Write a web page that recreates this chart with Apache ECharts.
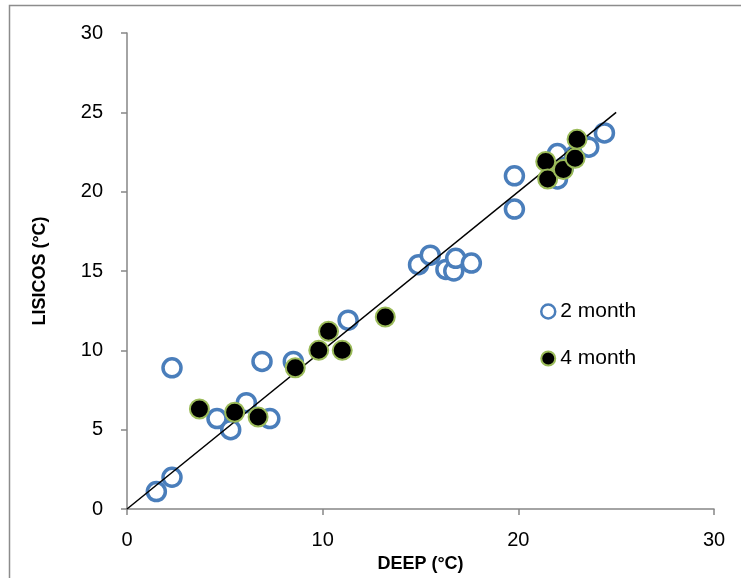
<!DOCTYPE html>
<html>
<head>
<meta charset="utf-8">
<script src="https://cdn.jsdelivr.net/npm/echarts@6/dist/echarts.min.js"></script>
<style>
  html, body { margin: 0; padding: 0; background: #fff; }
  #chart { width: 741px; height: 578px; }
</style>
</head>
<body>
<div id="chart"></div>
<script>
// 2 month readings: DEEP (x) vs LISICOS (y)
var deep2 = [1.5, 2.3, 2.3, 4.6, 5.3, 6.1, 6.9, 7.3, 8.5, 11.3, 14.9, 15.5, 16.3, 16.7, 16.8, 17.6, 19.8, 19.8, 22.0, 22.0, 22.3, 22.9, 23.4, 23.6, 24.4];
var lisicos2 = [1.1, 2.0, 8.9, 5.7, 5.0, 6.7, 9.3, 5.7, 9.3, 11.9, 15.4, 16.0, 15.1, 15.0, 15.8, 15.5, 21.0, 18.9, 22.4, 20.8, 21.5, 22.3, 22.9, 22.8, 23.7];

// 4 month readings
var deep4 = [3.7, 5.5, 6.7, 8.6, 9.8, 10.3, 11.0, 13.2, 21.4, 21.5, 22.3, 22.9, 23.0];
var lisicos4 = [6.3, 6.1, 5.8, 8.9, 10.0, 11.2, 10.0, 12.1, 21.9, 20.8, 21.4, 22.1, 23.3];

// 1:1 line
var lineX = [0, 25];
var lineY = [0, 25];

function pairs(xs, ys) {
    var out = [];
    for (var i = 0; i < xs.length; i++) {
        out.push([xs[i], ys[i]]);
    }
    return out;
}

var font = 'Liberation Sans';
var axisGray = '#868686';
var blue = '#4a7ebb';
var green = '#9bbb59';

var chart = echarts.init(document.getElementById('chart'));
chart.setOption({
    animation: false,
    textStyle: { fontFamily: font },
    graphic: [{
        type: 'rect',
        shape: { x: 9.5, y: 5.5, width: 800, height: 700 },
        style: { fill: 'none', stroke: '#8c8c8c', lineWidth: 1.5 },
        silent: true
    }],
    grid: { left: 127, right: 27, top: 33, bottom: 69 },
    legend: {
        orient: 'vertical',
        left: 535,
        top: 296,
        itemGap: 26,
        itemWidth: 14,
        itemHeight: 14,
        data: [
            { name: '2 month', itemStyle: { color: '#fff', borderColor: blue, borderWidth: 2.5, opacity: 1 } },
            { name: '4 month', itemStyle: { color: '#000', borderColor: green, borderWidth: 2, opacity: 1 } }
        ],
        textStyle: { fontFamily: font, fontSize: 21, color: '#000', padding: [0, 0, 0, 0] }
    },
    xAxis: {
        type: 'value',
        min: 0, max: 30, interval: 10,
        name: 'DEEP (°C)',
        nameLocation: 'middle',
        nameGap: 41,
        nameTextStyle: { fontFamily: font, fontSize: 18, fontWeight: 'bold', color: '#000' },
        axisLine: { show: true, lineStyle: { color: axisGray, width: 1.5 } },
        axisTick: { show: true, length: 6, lineStyle: { color: axisGray, width: 1.5 } },
        axisLabel: { fontSize: 20, color: '#000', margin: 21 },
        splitLine: { show: false }
    },
    yAxis: {
        type: 'value',
        min: 0, max: 30, interval: 5,
        name: 'LISICOS (°C)',
        nameLocation: 'middle',
        nameGap: 78,
        nameTextStyle: { fontFamily: font, fontSize: 18, fontWeight: 'bold', color: '#000' },
        axisLine: { show: true, lineStyle: { color: axisGray, width: 1.5 } },
        axisTick: { show: true, length: 6, lineStyle: { color: axisGray, width: 1.5 } },
        axisLabel: { fontSize: 20, color: '#000', margin: 24 },
        splitLine: { show: false }
    },
    series: [{
        name: '1:1',
        type: 'line',
        data: pairs(lineX, lineY),
        symbol: 'none',
        lineStyle: { color: '#000', width: 1.5 },
        z: 3
    }, {
        name: '2 month',
        type: 'scatter',
        data: pairs(deep2, lisicos2),
        symbol: 'circle',
        symbolSize: 18,
        itemStyle: { color: '#fff', borderColor: blue, borderWidth: 3.5, opacity: 1 },
        z: 2
    }, {
        name: '4 month',
        type: 'scatter',
        data: pairs(deep4, lisicos4),
        symbol: 'circle',
        symbolSize: 19,
        itemStyle: { color: '#000', borderColor: green, borderWidth: 2, opacity: 1 },
        z: 4
    }]
});
</script>
</body>
</html>
